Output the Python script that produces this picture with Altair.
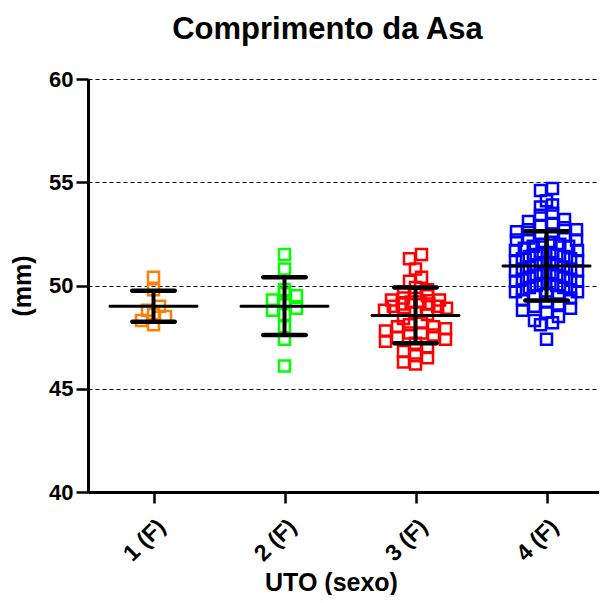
import math
import altair as alt
import pandas as pd

# ---------------- data ----------------
categories = ["1 (F)", "2 (F)", "3 (F)", "4 (F)"]
colors = ["#FF8000", "#00FF00", "#FF0000", "#0000FF"]

uto1 = [50.4, 49.8, 49.0, 48.8, 48.6, 48.5, 48.3, 48.1]
uto2 = [51.5, 50.8, 49.8, 49.6, 49.5, 49.3, 49.2, 48.9, 48.8, 48.6, 48.0, 47.4, 46.1]
uto3 = [51.5, 51.3, 50.8, 50.4, 50.2, 49.9, 49.8, 49.7, 49.6, 49.5, 49.4, 49.3,
        49.3, 49.2, 49.2, 49.1, 49.1, 49.0, 49.0, 48.9, 48.8, 48.7, 48.6, 48.4,
        48.2, 48.1, 48.0, 48.0, 47.9, 47.8, 47.7, 47.7, 47.6, 47.5, 47.4, 47.3,
        47.2, 47.0, 46.8, 46.6, 46.5, 46.3, 46.2]
uto4 = [54.7, 54.6, 54.1, 53.9, 53.8, 53.5, 53.4, 53.2, 53.1, 53.0, 52.9, 52.8,
        52.7, 52.7, 52.6, 52.5, 52.4, 52.4, 52.3, 52.2, 52.2, 52.1, 52.0, 52.0,
        51.9, 51.9, 51.8, 51.7, 51.7, 51.6, 51.6, 51.5, 51.5, 51.4, 51.4, 51.3,
        51.3, 51.2, 51.2, 51.1, 51.1, 51.0, 51.0, 50.9, 50.9, 50.8, 50.8, 50.7,
        50.7, 50.6, 50.6, 50.5, 50.5, 50.4, 50.4, 50.3, 50.3, 50.2, 50.2, 50.1,
        50.1, 50.0, 50.0, 49.9, 49.9, 49.8, 49.8, 49.7, 49.7, 49.6, 49.5, 49.5,
        49.4, 49.3, 49.2, 49.1, 49.0, 48.9, 48.8, 48.7, 48.5, 48.3, 48.2, 48.1,
        47.4]
groups = [uto1, uto2, uto3, uto4]

means = [49.0, 49.0, 48.55, 50.95]
sds = [0.75, 1.4, 1.35, 1.68]

y_ticks = [40, 45, 50, 55, 60]

# ---------------- layout ----------------
PLOT_W = 511
PLOT_H = 413
STEP = 131.0                 # pixels between category centres
PX_PER_MM = PLOT_H / 20.0
X_MAX = 0.5 + PLOT_W / STEP
ROW_PX = 10.0                # height of a scatter row, px
SPACING = 12.0               # preferred horizontal spacing, px
MAX_HALF = 31.0              # max half-width of a scatter row, px


def scatter_offsets(vals):
    """Column-scatter layout: points binned into rows, spread sideways."""
    rows = {}
    for i, v in enumerate(vals):
        r = int(math.floor((v - 40) * PX_PER_MM / ROW_PX))
        rows.setdefault(r, []).append(i)
    offs = [0.0] * len(vals)
    for r, idx in rows.items():
        n = len(idx)
        if n == 1:
            continue
        w = min(SPACING, 2 * MAX_HALF / (n - 1))
        idx_sorted = sorted(idx, key=lambda i: vals[i])
        arranged = idx_sorted[0::2] + idx_sorted[1::2][::-1]
        for k, i in enumerate(arranged):
            offs[i] = (k - (n - 1) / 2.0) * w
    return offs


rows = []
for gi, vals in enumerate(groups):
    offs = scatter_offsets(vals)
    for v, o in zip(vals, offs):
        rows.append({"group": categories[gi], "pos": gi + 1 + o / STEP, "value": v})
points_df = pd.DataFrame(rows)

stats_df = pd.DataFrame({
    "group": categories,
    "pos": [i + 1 for i in range(len(categories))],
    "value": means,
    "lo": [m - s for m, s in zip(means, sds)],
    "hi": [m + s for m, s in zip(means, sds)],
})
caps_df = pd.concat([
    stats_df[["pos", "lo"]].rename(columns={"lo": "value"}),
    stats_df[["pos", "hi"]].rename(columns={"hi": "value"}),
])

FONT = "Liberation Sans"
xs = alt.Scale(domain=[0.5, X_MAX], nice=False, zero=False)
ys = alt.Scale(domain=[40, 60], nice=False, zero=False)

label_expr = "[" + ",".join("'" + c + "'" for c in categories) + "][datum.value - 1]"

x_axis = alt.Axis(
    values=[1, 2, 3, 4], labelExpr=label_expr, grid=False,
    tickSize=11, tickWidth=2.5, tickColor="black",
    domainColor="black", domainWidth=3,
    labelAngle=-45, labelFont=FONT, labelFontSize=23, labelFontWeight="bold",
    labelColor="black", labelPadding=12,
    title="UTO (sexo)", titleFont=FONT, titleFontSize=25, titleFontWeight="bold",
    titleColor="black", titleX=243, titleY=98, titleAlign="center",
    titleBaseline="alphabetic",
)
y_axis = alt.Axis(
    values=y_ticks, grid=True, gridDash=[4, 3], gridColor="black", gridWidth=1,
    gridOpacity=1,
    tickSize=12, tickWidth=2.5, tickColor="black",
    domainColor="black", domainWidth=3,
    labelFont=FONT, labelFontSize=22, labelFontWeight="bold", labelColor="black",
    labelPadding=3,
    title="(mm)", titleFont=FONT, titleFontSize=25, titleFontWeight="bold",
    titleColor="black", titleX=-66, titleBaseline="middle", titleAlign="center",
)

X = alt.X("pos:Q", scale=xs, axis=x_axis, title="UTO (sexo)")

points = alt.Chart(points_df).mark_point(
    shape="square", filled=False, size=121, strokeWidth=2.5, opacity=1
).encode(
    x=X,
    y=alt.Y("value:Q", scale=ys, axis=y_axis, title="(mm)"),
    color=alt.Color("group:N", scale=alt.Scale(domain=categories, range=colors), legend=None),
)

sd_rule = alt.Chart(stats_df).mark_rule(color="black", strokeWidth=4).encode(
    x=X,
    y=alt.Y("lo:Q", scale=ys, axis=y_axis, title="(mm)"),
    y2="hi:Q",
)
mean_tick = alt.Chart(stats_df).mark_tick(
    orient="horizontal", size=90, thickness=3, color="black", opacity=1, cornerRadius=1.5
).encode(
    x=X,
    y=alt.Y("value:Q", scale=ys, axis=y_axis, title="(mm)"),
)
caps = alt.Chart(caps_df).mark_tick(
    orient="horizontal", size=47, thickness=4.5, color="black", opacity=1, cornerRadius=2.2
).encode(
    x=X,
    y=alt.Y("value:Q", scale=ys, axis=y_axis, title="(mm)"),
)

chart = alt.layer(points, sd_rule, mean_tick, caps).properties(
    width=PLOT_W,
    height=PLOT_H,
    background="white",
    title=alt.TitleParams(
        "Comprimento da Asa", font=FONT, fontSize=31, fontWeight="bold",
        color="black", anchor="middle", dx=-16, offset=22,
    ),
    autosize=alt.AutoSizeParams(type="none"),
    padding={"left": 80, "top": 71, "right": 0, "bottom": 103},
).configure_view(stroke=None)

chart.save("out.html", embed_options={"renderer": "svg", "actions": False})
